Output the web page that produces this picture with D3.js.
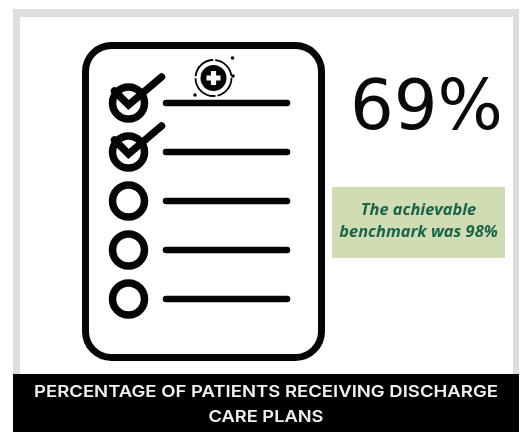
<!DOCTYPE html>
<html>
<head>
<meta charset="utf-8">
<script src="https://cdn.jsdelivr.net/npm/d3@7/dist/d3.min.js"></script>
<style>
html,body{margin:0;padding:0;background:#fff}
svg{display:block;filter:blur(0.5px)}
</style>
</head>
<body>
<svg id="c" width="523" height="432"></svg>
<script>
const checklistItems = ["a","b","c","d","e"];
const checkedFlags = [1,1,0,0,0];
const resultValue = 69;
const benchmarkValue = 98;
const titleLines = ["PERCENTAGE OF PATIENTS RECEIVING DISCHARGE","CARE PLANS"];
const noteLines = ["The achievable","benchmark was " + benchmarkValue + "%"];

const svg = d3.select("#c");
const y = d3.scalePoint().domain(checklistItems).range([103,299]);
const ink = "#050505";

// frame
svg.append("rect").attr("x",13).attr("y",9).attr("width",506).attr("height",423).attr("fill","#dedede");
svg.append("rect").attr("x",20).attr("y",17).attr("width",493).attr("height",357).attr("fill","#fff");
svg.append("rect").attr("x",13).attr("y",374).attr("width",506).attr("height",58).attr("fill","#000");

// clipboard
svg.append("rect").attr("x",85.5).attr("y",45.5).attr("width",236).attr("height",312).attr("rx",26)
  .attr("fill","#fff").attr("stroke",ink).attr("stroke-width",7);

// lines
svg.selectAll(".l").data(checklistItems).join("line")
  .attr("x1",166).attr("x2",287)
  .attr("y1",d=>y(d)).attr("y2",d=>y(d))
  .attr("stroke",ink).attr("stroke-width",6.5).attr("stroke-linecap","round");

// circles
svg.selectAll(".o").data(checklistItems).join("circle")
  .attr("cx",128.5).attr("cy",d=>y(d)).attr("r",16)
  .attr("fill","#fff").attr("stroke",ink).attr("stroke-width",7.5);

// checks
const done = checklistItems.filter((d,i)=>checkedFlags[i]);
svg.selectAll(".chk").data(done).join("path")
  .attr("transform",d=>`translate(128.5,${y(d)})`)
  .attr("d","M-14,-12 L0,2 L33,-26")
  .attr("fill","none").attr("stroke",ink).attr("stroke-width",7.5)
  .attr("stroke-linecap","round").attr("stroke-linejoin","miter");

// medical badge
const badge = svg.append("g").attr("transform","translate(213.5,78)");
badge.append("circle").attr("r",13).attr("fill",ink);
badge.append("circle").attr("r",18).attr("fill","none").attr("stroke",ink).attr("stroke-width",1.8)
  .attr("stroke-dasharray","24 2 30 2 26 2");
badge.append("path").attr("d","M-2.6,-7H2.6V-2.6H7V2.6H2.6V7H-2.6V2.6H-7V-2.6H-2.6Z").attr("fill","#fff");
[[19,-20],[19.5,-2],[-18.5,17]].forEach(p=>badge.append("circle").attr("cx",p[0]).attr("cy",p[1]).attr("r",1.8).attr("fill",ink));

// big number
svg.append("text").attr("x",350).attr("y",129)
  .attr("font-family","'DejaVu Sans', sans-serif").attr("font-size",70).attr("font-weight",400)
  .attr("textLength",153).attr("lengthAdjust","spacingAndGlyphs")
  .attr("fill","#0a0a0a").text(resultValue+"%");

// note
svg.append("rect").attr("x",332).attr("y",187).attr("width",173).attr("height",71).attr("fill","#cfdcb4");
svg.selectAll(".n").data(noteLines).join("text")
  .attr("x",418.5).attr("y",(d,i)=>215+i*22).attr("text-anchor","middle")
  .attr("font-family","'Open Sans', sans-serif").attr("font-size",16.4).attr("font-style","italic").attr("font-weight",700)
  .attr("fill","#1b6548").text(d=>d);

// title
const titleWidths = [464,115];
svg.selectAll(".t").data(titleLines).join("text")
  .attr("x",266).attr("y",(d,i)=>397+i*25).attr("text-anchor","middle")
  .attr("font-family","Inter, sans-serif").attr("font-size",16.5).attr("font-weight",600)
  .attr("textLength",(d,i)=>titleWidths[i]).attr("lengthAdjust","spacingAndGlyphs")
  .attr("fill","#f0f0f0").text(d=>d);
</script>
</body>
</html>
